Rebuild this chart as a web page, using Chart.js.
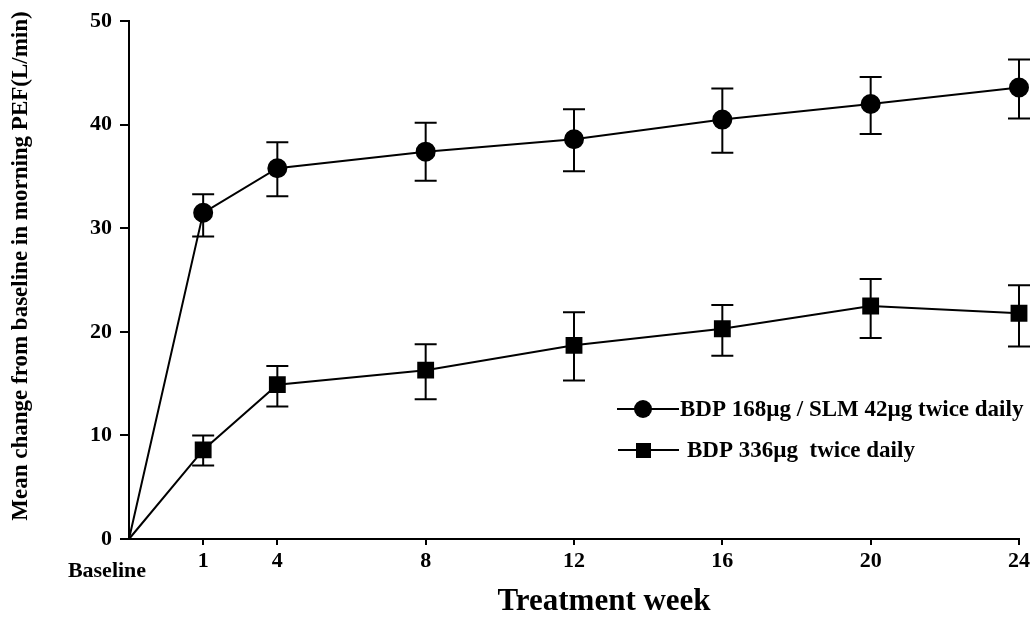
<!DOCTYPE html>
<html>
<head>
<meta charset="utf-8">
<script src="https://cdn.jsdelivr.net/npm/chart.js@4.4.1/dist/chart.umd.min.js"></script>
<style>
  html, body { margin: 0; padding: 0; background: #fff; }
  #wrap { width: 1036px; height: 624px; }
</style>
</head>
<body>
<div id="wrap"><canvas id="pefChart" width="1036" height="624"></canvas></div>
<script>
// x positions along the week axis (week 1 sits a bit further out in the original figure)
const weekLabels = ['Baseline', '1', '4', '8', '12', '16', '20', '24'];
const weekPos = [0, 2, 4, 8, 12, 16, 20, 24];

// BDP 168ug / SLM 42ug twice daily
const combMean = [0, 31.5, 35.8, 37.4, 38.6, 40.5, 42.0, 43.6];
const combHigh = [null, 33.3, 38.3, 40.2, 41.5, 43.5, 44.6, 46.3];
const combLow  = [null, 29.2, 33.1, 34.6, 35.5, 37.3, 39.1, 40.6];

// BDP 336ug twice daily
const bdpMean = [0, 8.6, 14.9, 16.3, 18.7, 20.3, 22.5, 21.8];
const bdpHigh = [null, 10.0, 16.7, 18.8, 21.9, 22.6, 25.1, 24.5];
const bdpLow  = [null, 7.1, 12.8, 13.5, 15.3, 17.7, 19.4, 18.6];

const seriesNames = ['BDP 168\u00b5g / SLM 42\u00b5g twice daily', 'BDP 336\u00b5g  twice daily'];
const yTicks = [0, 10, 20, 30, 40, 50];

const serif = '"Liberation Serif", "Times New Roman", serif';

const toPoints = (ys) => ys.map((y, i) => ({ x: weekPos[i], y: y }));

// error bars drawn with the chart's own scales
const errorBars = {
    id: 'errorBars',
    afterDatasetsDraw(chart) {
        const ctx = chart.ctx;
        const xs = chart.scales.x, ys = chart.scales.y;
        const sets = [[combHigh, combLow], [bdpHigh, bdpLow]];
        ctx.save();
        ctx.strokeStyle = '#000';
        ctx.lineWidth = 2;
        sets.forEach(([hi, lo]) => {
            weekPos.forEach((w, i) => {
                if (hi[i] == null) return;
                const px = xs.getPixelForValue(w);
                const top = ys.getPixelForValue(hi[i]);
                const bot = ys.getPixelForValue(lo[i]);
                ctx.beginPath();
                ctx.moveTo(px, top); ctx.lineTo(px, bot);
                ctx.moveTo(px - 11, top); ctx.lineTo(px + 11, top);
                ctx.moveTo(px - 11, bot); ctx.lineTo(px + 11, bot);
                ctx.stroke();
            });
        });
        ctx.restore();
    }
};

// titles, baseline label and the in-plot legend
const extraText = {
    id: 'extraText',
    afterDraw(chart) {
        const ctx = chart.ctx;
        const xs = chart.scales.x;
        ctx.save();
        ctx.fillStyle = '#000';
        ctx.strokeStyle = '#000';

        ctx.font = 'bold 22px ' + serif;
        ctx.textAlign = 'center';
        ctx.textBaseline = 'middle';
        ctx.fillText(weekLabels[0], xs.getPixelForValue(weekPos[0]) - 22, 571);

        ctx.font = 'bold 31px ' + serif;
        ctx.fillText('Treatment week', 604, 602);

        ctx.translate(21, 266);
        ctx.rotate(-Math.PI / 2);
        ctx.font = 'bold 23px ' + serif;
        ctx.fillText('Mean change from baseline in morning PEF(L/min)', 0, 0);
        ctx.setTransform(1, 0, 0, 1, 0, 0);

        // legend
        ctx.lineWidth = 2;
        ctx.textAlign = 'left';
        ctx.font = 'bold 23px ' + serif;
        ctx.beginPath();
        ctx.moveTo(617, 409); ctx.lineTo(679, 409);
        ctx.moveTo(618, 450); ctx.lineTo(679, 450);
        ctx.stroke();
        ctx.beginPath();
        ctx.arc(643, 409, 9, 0, Math.PI * 2);
        ctx.fill();
        ctx.fillRect(636, 443, 15, 15);
        ctx.fillText(seriesNames[0], 680, 410);
        ctx.fillText(seriesNames[1], 687, 451);
        ctx.restore();
    }
};

const ctx = document.getElementById('pefChart').getContext('2d');

new Chart(ctx, {
    type: 'line',
    data: {
        datasets: [{
            label: seriesNames[0],
            data: toPoints(combMean),
            borderColor: '#000',
            backgroundColor: '#000',
            borderWidth: 2,
            pointStyle: 'circle',
            pointRadius: combMean.map((v, i) => i === 0 ? 0 : 9),
            tension: 0,
            clip: false
        }, {
            label: seriesNames[1],
            data: toPoints(bdpMean),
            borderColor: '#000',
            backgroundColor: '#000',
            borderWidth: 2,
            pointStyle: 'rect',
            pointRadius: bdpMean.map((v, i) => i === 0 ? 0 : 10.5),
            tension: 0,
            clip: false
        }]
    },
    options: {
        responsive: false,
        animation: false,
        layout: { padding: { top: 15, right: 17, left: 0, bottom: 0 } },
        plugins: {
            legend: { display: false },
            tooltip: { enabled: false }
        },
        scales: {
            x: {
                type: 'linear',
                min: 0,
                max: 24,
                afterBuildTicks: (scale) => {
                    scale.ticks = weekPos.slice(1).map(v => ({ value: v }));
                },
                afterFit: (scale) => { scale.height = 85; },
                ticks: {
                    autoSkip: false,
                    maxRotation: 0,
                    padding: 3,
                    color: '#000',
                    font: { family: serif, size: 22, weight: 'bold' },
                    callback: (v) => weekLabels[weekPos.indexOf(v)]
                },
                grid: { drawOnChartArea: false, drawTicks: true, tickLength: 6, color: '#000', lineWidth: 2 },
                border: { display: true, color: '#000', width: 2 }
            },
            y: {
                min: 0,
                max: 50,
                afterBuildTicks: (scale) => {
                    scale.ticks = yTicks.map(v => ({ value: v }));
                },
                afterFit: (scale) => { scale.width = 129; },
                ticks: {
                    padding: 8,
                    color: '#000',
                    font: { family: serif, size: 22, weight: 'bold' }
                },
                grid: { drawOnChartArea: false, drawTicks: true, tickLength: 9, color: '#000', lineWidth: 2 },
                border: { display: true, color: '#000', width: 2 }
            }
        }
    },
    plugins: [errorBars, extraText]
});
</script>
</body>
</html>
